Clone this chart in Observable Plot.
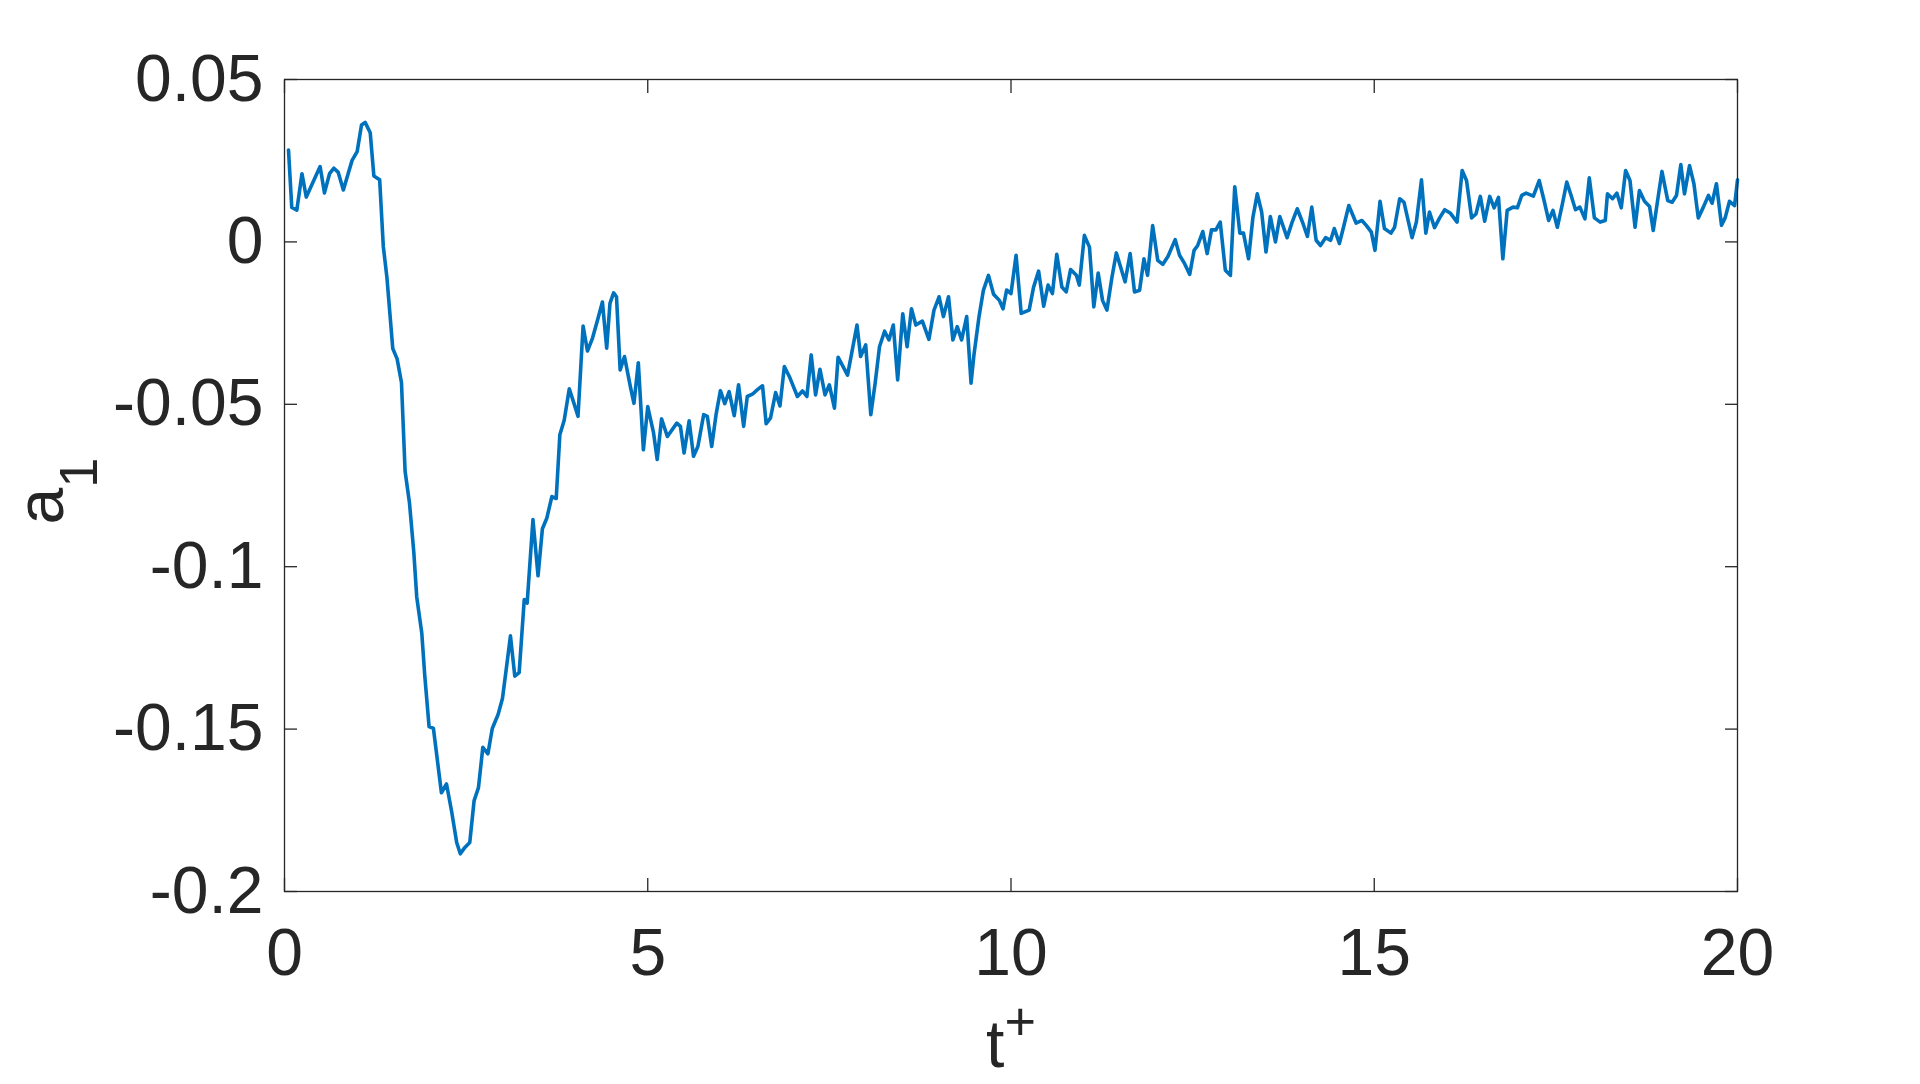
<!DOCTYPE html>
<html>
<head>
<meta charset="utf-8">
<script src="https://cdn.jsdelivr.net/npm/d3@7"></script>
<script src="https://cdn.jsdelivr.net/npm/@observablehq/plot@0.6"></script>
<style>
  html, body { margin: 0; padding: 0; background: #ffffff; }
  #chart svg { display: block; }
</style>
</head>
<body>
<div id="chart"></div>
<script>
// time t+
const tValues = [
  0.055,0.10,0.17,0.24,0.30,0.49,0.55,0.62,0.68,0.74,0.81,0.93,1.00,1.06,1.11,1.18,1.23,1.31,1.36,1.41,
  1.49,1.55,1.61,1.66,1.72,1.78,1.82,1.89,1.93,1.99,2.05,2.16,2.23,2.30,2.37,2.42,2.48,2.55,2.61,2.67,
  2.73,2.80,2.86,2.94,3.00,3.06,3.11,3.17,3.23,3.30,3.34,3.42,3.49,3.55,3.61,3.68,3.74,3.79,3.85,3.92,
  3.98,4.04,4.11,4.17,4.24,4.31,
  4.376,4.435,4.48,4.53,4.57,4.62,4.68,4.76,4.81,4.87,4.94,5.00,5.08,5.13,5.19,5.27,5.40,5.45,5.50,5.57,
  5.63,5.69,5.77,5.82,5.88,5.94,6.00,6.06,6.12,6.19,6.25,6.32,6.37,6.44,6.51,6.58,6.63,6.69,6.76,6.82,
  6.88,6.95,7.06,7.13,7.19,7.25,7.31,7.37,7.44,7.50,7.57,7.62,7.75,7.88,7.93,8.00,8.07,8.13,8.19,8.26,
  8.32,8.38,8.44,8.51,8.57,8.63,8.69,8.78,8.87,8.94,9.01,9.07,9.14,9.20,9.26,9.32,9.39,9.45,9.49,9.56,
  9.62,9.69,9.76,9.84,9.89,9.94,10.00,10.07,10.14,10.25,10.31,10.38,10.45,10.51,
  10.57,10.63,10.70,10.76,10.82,10.90,10.94,11.01,11.08,11.14,11.20,11.26,11.32,11.39,11.45,11.57,11.64,
  11.70,11.77,11.83,11.88,11.95,12.02,12.09,12.16,12.26,12.32,12.39,12.46,12.52,12.57,12.64,12.70,12.76,
  12.82,12.88,12.95,13.02,13.08,13.15,13.20,13.27,13.33,13.39,13.45,13.51,13.57,13.64,13.70,13.80,13.87,
  13.94,14.02,14.08,14.14,14.20,14.26,14.33,14.40,14.45,14.52,14.58,14.65,
  14.75,14.83,14.89,14.96,15.01,15.08,15.14,15.23,15.28,15.35,15.41,15.52,15.58,15.65,15.71,15.76,15.83,
  15.90,15.97,16.05,16.14,16.21,16.27,16.34,16.40,16.46,16.52,16.59,16.65,16.71,16.77,16.83,16.91,16.97,
  17.03,17.09,17.19,17.27,17.34,17.40,17.46,17.52,17.59,17.65,17.71,17.77,17.83,17.90,17.96,18.03,18.11,
  18.18,18.21,18.28,18.34,18.40,18.46,18.52,18.59,18.65,18.72,18.79,18.84,18.90,18.96,19.04,19.10,19.16,
  19.22,19.27,19.34,19.40,19.46,19.53,19.60,19.65,19.71,19.78,19.83,19.89,19.96,20.00
];

// coefficient a1
const a1Values = [
  0.0283,0.0106,0.0098,0.0210,0.0138,0.0232,0.0151,0.0210,0.0227,0.0214,0.0160,0.0251,0.0278,0.0360,0.0368,0.0336,0.0203,0.0191,-0.0014,-0.0110,
  -0.0328,-0.0360,-0.0433,-0.0706,-0.0803,-0.0956,-0.1093,-0.1205,-0.1334,-0.1492,-0.1498,-0.1696,-0.1669,-0.1753,-0.1849,-0.1884,-0.1865,-0.1849,-0.1720,-0.1680,
  -0.1556,-0.1576,-0.1498,-0.1455,-0.1406,-0.1302,-0.1213,-0.1337,-0.1326,-0.1101,-0.1112,-0.0855,-0.1028,-0.0883,-0.0851,-0.0784,-0.0790,-0.0594,-0.0549,-0.0452,
  -0.0494,-0.0537,-0.0259,-0.0336,-0.0296,-0.0240,
  -0.0185,-0.0327,-0.0189,-0.0157,-0.0169,-0.0394,-0.0353,-0.0445,-0.0497,-0.0372,-0.0640,-0.0507,-0.0588,-0.0670,-0.0545,-0.0599,-0.0558,-0.0568,-0.0650,-0.0551,
  -0.0660,-0.0630,-0.0532,-0.0537,-0.0630,-0.0532,-0.0458,-0.0498,-0.0461,-0.0535,-0.0440,-0.0568,-0.0476,-0.0469,-0.0455,-0.0443,-0.0560,-0.0542,-0.0464,-0.0505,
  -0.0384,-0.0415,-0.0476,-0.0459,-0.0476,-0.0348,-0.0471,-0.0392,-0.0471,-0.0440,-0.0512,-0.0355,-0.0410,-0.0256,-0.0353,-0.0317,-0.0532,-0.0435,-0.0323,-0.0275,
  -0.0302,-0.0256,-0.0425,-0.0221,-0.0323,-0.0206,-0.0256,-0.0244,-0.0300,-0.0210,-0.0169,-0.0230,-0.0169,-0.0302,-0.0261,-0.0302,-0.0230,-0.0435,-0.0348,-0.0230,
  -0.0149,-0.0103,-0.0161,-0.0180,-0.0206,-0.0148,-0.0159,-0.0041,-0.0220,-0.0210,-0.0140,-0.0090,-0.0198,-0.0133,
  -0.0159,-0.0038,-0.0139,-0.0154,-0.0085,-0.0103,-0.0133,0.0020,-0.0016,-0.0200,-0.0096,-0.0180,-0.0210,-0.0108,-0.0034,-0.0123,-0.0036,
  -0.0154,-0.0149,-0.0052,-0.0103,0.0050,-0.0057,-0.0069,-0.0045,0.0007,-0.0041,-0.0067,-0.0100,-0.0026,-0.0011,0.0032,-0.0036,0.0037,
  0.0037,0.0061,-0.0087,-0.0103,0.0170,0.0027,0.0027,-0.0052,0.0076,0.0148,0.0092,-0.0031,0.0078,0.0000,0.0078,0.0013,0.0061,
  0.0102,0.0056,0.0017,0.0107,0.0005,-0.0011,0.0013,0.0005,0.0041,-0.0005,0.0048,0.0112,
  0.0058,0.0066,0.0051,0.0030,-0.0026,0.0125,0.0041,0.0027,0.0045,0.0133,0.0122,0.0013,0.0061,0.0191,0.0027,0.0092,0.0044,
  0.0074,0.0099,0.0088,0.0061,0.0220,0.0189,0.0074,0.0086,0.0140,0.0064,0.0140,0.0105,0.0137,-0.0052,0.0097,0.0107,0.0105,
  0.0143,0.0150,0.0141,0.0189,0.0125,0.0066,0.0097,0.0045,0.0117,0.0184,0.0143,0.0099,0.0107,0.0071,0.0197,0.0074,0.0061,
  0.0066,0.0148,0.0133,0.0150,0.0105,0.0220,0.0189,0.0045,0.0158,0.0125,0.0109,0.0035,0.0127,0.0217,0.0127,0.0122,0.0143,
  0.0238,0.0148,0.0235,0.0179,0.0074,0.0107,0.0143,0.0119,0.0179,0.0051,0.0074,0.0125,0.0112,0.0191
];

const xTicks = [0, 5, 10, 15, 20];
const xTickLabels = ["0", "5", "10", "15", "20"];
const yTicks = [-0.2, -0.15, -0.1, -0.05, 0, 0.05];
const yTickLabels = ["-0.2", "-0.15", "-0.1", "-0.05", "0", "0.05"];

const data = tValues.map((t, i) => ({t, a: a1Values[i]}));

const axisColor = "#262626";
const fontFamily = "'Liberation Sans', Arial, Helvetica, sans-serif";
const W = 1920, H = 1084;

const chart = Plot.plot({
  width: W,
  height: H,
  marginLeft: 284,
  marginRight: 183,
  marginTop: 79,
  marginBottom: 193,
  style: {fontFamily, color: axisColor, background: "#ffffff", overflow: "visible"},
  x: {domain: [0, 20], ticks: xTicks},
  y: {domain: [-0.2, 0.05], ticks: yTicks},
  marks: [
    // inward tick marks on all four sides
    Plot.axisX({ticks: xTicks, anchor: "bottom", tickSize: 13, dy: -13, fill: "none", stroke: axisColor, strokeWidth: 1.3, label: null}),
    Plot.axisX({ticks: xTicks, anchor: "top", tickSize: 13, dy: 13, fill: "none", stroke: axisColor, strokeWidth: 1.3, label: null}),
    Plot.axisY({ticks: yTicks, anchor: "left", tickSize: 13, dx: 13, fill: "none", stroke: axisColor, strokeWidth: 1.3, label: null}),
    Plot.axisY({ticks: yTicks, anchor: "right", tickSize: 13, dx: -13, fill: "none", stroke: axisColor, strokeWidth: 1.3, label: null}),
    // tick labels
    Plot.axisX({ticks: xTicks, anchor: "bottom", tickSize: 0, tickPadding: 37, fontSize: 66, fill: axisColor,
      tickFormat: d => xTickLabels[xTicks.indexOf(d)], label: null}),
    Plot.axisY({ticks: yTicks, anchor: "left", tickSize: 0, tickPadding: 21, fontSize: 66, fill: axisColor,
      tickFormat: d => yTickLabels[yTicks.findIndex(v => Math.abs(v - d) < 1e-9)], label: null}),
    Plot.line(data, {x: "t", y: "a", stroke: "#0072BD", strokeWidth: 3.6, strokeLinejoin: "round", strokeLinecap: "round"}),
    Plot.frame({stroke: axisColor, strokeWidth: 1.3})
  ]
});

document.getElementById("chart").appendChild(chart);

// axis titles with sub/superscripts
const svg = d3.select(chart);
const yl = svg.append("text")
  .attr("transform", "translate(63,491) rotate(-90)")
  .attr("text-anchor", "middle")
  .attr("fill", axisColor)
  .attr("font-family", fontFamily)
  .attr("font-size", 66);
yl.append("tspan").text("a");
yl.append("tspan").attr("font-size", 54).attr("dy", 34).text("1");

const xl = svg.append("text")
  .attr("x", 1011)
  .attr("y", 1067)
  .attr("text-anchor", "middle")
  .attr("fill", axisColor)
  .attr("font-family", fontFamily)
  .attr("font-size", 66);
xl.append("tspan").text("t");
xl.append("tspan").attr("font-size", 54).attr("dy", -27).text("+");
</script>
</body>
</html>
